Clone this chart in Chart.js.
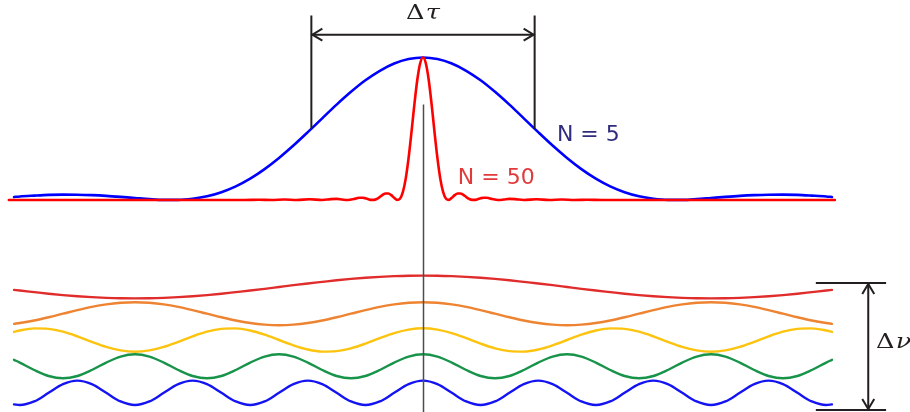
<!DOCTYPE html>
<html>
<head>
<meta charset="utf-8">
<script src="https://cdn.jsdelivr.net/npm/chart.js@4.4.1/dist/chart.umd.min.js"></script>
<style>
  html, body { margin: 0; padding: 0; background: #ffffff; }
  canvas { display: block; }
</style>
</head>
<body>
<canvas id="pulse" width="910" height="412"></canvas>
<script>
// Time axis (arbitrary units; one unit = one period of the lowest component)
const tGrid = [-0.71, -0.7, -0.675, -0.65, -0.625, -0.6, -0.575, -0.55, -0.525, -0.5,
  -0.475, -0.45, -0.425, -0.4, -0.375, -0.35, -0.325, -0.3, -0.275, -0.25,
  -0.225, -0.2, -0.175, -0.15, -0.125, -0.1, -0.075, -0.05, -0.025, 0,
  0.025, 0.05, 0.075, 0.1, 0.125, 0.15, 0.175, 0.2, 0.225, 0.25,
  0.275, 0.3, 0.325, 0.35, 0.375, 0.4, 0.425, 0.45, 0.475, 0.5,
  0.525, 0.55, 0.575, 0.6, 0.625, 0.65, 0.675, 0.7, 0.71];

// Five spectral components, normalised field amplitude
const comp1 = [-0.25, -0.31, -0.45, -0.59, -0.71, -0.81, -0.89, -0.95, -0.99, -1,
  -0.99, -0.95, -0.89, -0.81, -0.71, -0.59, -0.45, -0.31, -0.16, 0,
  0.16, 0.31, 0.45, 0.59, 0.71, 0.81, 0.89, 0.95, 0.99, 1,
  0.99, 0.95, 0.89, 0.81, 0.71, 0.59, 0.45, 0.31, 0.16, 0,
  -0.16, -0.31, -0.45, -0.59, -0.71, -0.81, -0.89, -0.95, -0.99, -1,
  -0.99, -0.95, -0.89, -0.81, -0.71, -0.59, -0.45, -0.31, -0.25];
const comp2 = [-0.88, -0.81, -0.59, -0.31, 0, 0.31, 0.59, 0.81, 0.95, 1,
  0.95, 0.81, 0.59, 0.31, 0, -0.31, -0.59, -0.81, -0.95, -1,
  -0.95, -0.81, -0.59, -0.31, 0, 0.31, 0.59, 0.81, 0.95, 1,
  0.95, 0.81, 0.59, 0.31, 0, -0.31, -0.59, -0.81, -0.95, -1,
  -0.95, -0.81, -0.59, -0.31, 0, 0.31, 0.59, 0.81, 0.95, 1,
  0.95, 0.81, 0.59, 0.31, 0, -0.31, -0.59, -0.81, -0.88];
const comp3 = [0.69, 0.81, 0.99, 0.95, 0.71, 0.31, -0.16, -0.59, -0.89, -1,
  -0.89, -0.59, -0.16, 0.31, 0.71, 0.95, 0.99, 0.81, 0.45, 0,
  -0.45, -0.81, -0.99, -0.95, -0.71, -0.31, 0.16, 0.59, 0.89, 1,
  0.89, 0.59, 0.16, -0.31, -0.71, -0.95, -0.99, -0.81, -0.45, 0,
  0.45, 0.81, 0.99, 0.95, 0.71, 0.31, -0.16, -0.59, -0.89, -1,
  -0.89, -0.59, -0.16, 0.31, 0.71, 0.95, 0.99, 0.81, 0.69];
const comp4 = [0.54, 0.31, -0.31, -0.81, -1, -0.81, -0.31, 0.31, 0.81, 1,
  0.81, 0.31, -0.31, -0.81, -1, -0.81, -0.31, 0.31, 0.81, 1,
  0.81, 0.31, -0.31, -0.81, -1, -0.81, -0.31, 0.31, 0.81, 1,
  0.81, 0.31, -0.31, -0.81, -1, -0.81, -0.31, 0.31, 0.81, 1,
  0.81, 0.31, -0.31, -0.81, -1, -0.81, -0.31, 0.31, 0.81, 1,
  0.81, 0.31, -0.31, -0.81, -1, -0.81, -0.31, 0.31, 0.54];
const comp5 = [-0.95, -1, -0.71, 0, 0.71, 1, 0.71, 0, -0.71, -1,
  -0.71, 0, 0.71, 1, 0.71, 0, -0.71, -1, -0.71, 0,
  0.71, 1, 0.71, 0, -0.71, -1, -0.71, 0, 0.71, 1,
  0.71, 0, -0.71, -1, -0.71, 0, 0.71, 1, 0.71, 0,
  -0.71, -1, -0.71, 0, 0.71, 1, 0.71, 0, -0.71, -1,
  -0.71, 0, 0.71, 1, 0.71, 0, -0.71, -1, -0.95];

// Pulse intensity for N = 5 (same time grid), peak normalised to 1
const pulseN5 = [0.021, 0.025, 0.031, 0.036, 0.038, 0.037, 0.034, 0.029, 0.022, 0.014,
  0.006, 0.001, 0.001, 0.009, 0.026, 0.055, 0.096, 0.150, 0.217, 0.295,
  0.382, 0.476, 0.573, 0.669, 0.759, 0.840, 0.907, 0.958, 0.989, 1,
  0.989, 0.958, 0.907, 0.840, 0.759, 0.669, 0.573, 0.476, 0.382, 0.295,
  0.217, 0.150, 0.096, 0.055, 0.026, 0.009, 0.001, 0.001, 0.006, 0.014,
  0.022, 0.029, 0.034, 0.037, 0.038, 0.036, 0.031, 0.025, 0.021];

// Pulse intensity for N = 50, sampled finely around the peak
const tN50 = [-0.719, -0.31, -0.285, -0.2625, -0.241, -0.219, -0.197, -0.175,
  -0.16, -0.15, -0.14, -0.13,
  -0.12, -0.115, -0.11, -0.105, -0.1, -0.095, -0.09, -0.085, -0.08, -0.075,
  -0.07, -0.065, -0.06, -0.055, -0.05, -0.045, -0.04, -0.035, -0.03, -0.025,
  -0.02, -0.015, -0.01, -0.005, 0,
  0.005, 0.01, 0.015, 0.02, 0.025, 0.03, 0.035, 0.04, 0.045, 0.05,
  0.055, 0.06, 0.065, 0.07, 0.075, 0.08, 0.085, 0.09, 0.095, 0.1,
  0.105, 0.11, 0.115, 0.12,
  0.13, 0.14, 0.15, 0.16,
  0.175, 0.197, 0.219, 0.241, 0.2625, 0.285, 0.31, 0.715];
const pulseN50 = [0, 0, 0.002, 0, 0.003, 0, 0.005, 0,
  0.006, 0.008, 0.003, 0,
  0.007, 0.012, 0.016, 0.016, 0.012, 0.006, 0.001, 0.001, 0.008, 0.021,
  0.036, 0.046, 0.046, 0.034, 0.015, 0.001, 0.009, 0.055, 0.150, 0.295,
  0.476, 0.669, 0.840, 0.958, 1,
  0.958, 0.840, 0.669, 0.476, 0.295, 0.150, 0.055, 0.009, 0.001, 0.015,
  0.034, 0.046, 0.046, 0.036, 0.021, 0.008, 0.001, 0.001, 0.006, 0.012,
  0.016, 0.016, 0.012, 0.007,
  0, 0.003, 0.008, 0.006,
  0, 0.005, 0, 0.003, 0, 0.002, 0, 0];

// ---- layout (canvas pixels) ----
const W = 910, H = 412;
const T_CENTER_PX = 423, PX_PER_T = 576;
const PULSE_BASE_PX = 200, PULSE_PX_PER_UNIT = 142.5;
// vertical centre and amplitude of each component row
const rows = [
  { c: 287.0, a: 11.4 },
  { c: 313.7, a: 11.5 },
  { c: 340.0, a: 11.7 },
  { c: 366.3, a: 12.0 },
  { c: 392.8, a: 12.2 }
];
const compColors = ['#e12c2c', '#ee8431', '#fdc40f', '#17934a', '#1414f2'];
const comps = [comp1, comp2, comp3, comp4, comp5];

function pts(xs, ys) { return xs.map((x, i) => ({ x: x, y: ys[i] })); }

const datasets = [
  { label: 'N = 50', data: pts(tN50, pulseN50), yAxisID: 'yPulse', borderColor: '#ff0000',
    borderWidth: 2.6, order: 0 },
  { label: 'N = 5', data: pts(tGrid, pulseN5), yAxisID: 'yPulse', borderColor: '#0000ff',
    borderWidth: 2.6, order: 1 }
];
comps.forEach((vals, k) => {
  datasets.push({ label: 'component ' + (k + 1), data: pts(tGrid, vals), yAxisID: 'w' + k,
    borderColor: compColors[k], borderWidth: 2.4, order: 6 - k });
});
datasets.forEach(d => {
  d.pointRadius = 0; d.fill = false; d.cubicInterpolationMode = 'monotone';
  d.borderJoinStyle = 'round'; d.borderCapStyle = 'round'; d.clip = false;
});

const scales = {
  x: { type: 'linear', display: false, min: -T_CENTER_PX / PX_PER_T, max: (W - T_CENTER_PX) / PX_PER_T },
  yPulse: { display: false, min: (PULSE_BASE_PX - H) / PULSE_PX_PER_UNIT, max: PULSE_BASE_PX / PULSE_PX_PER_UNIT }
};
rows.forEach((r, k) => { scales['w' + k] = { display: false, min: (r.c - H) / r.a, max: r.c / r.a }; });

// width of a pulse at half maximum, from its samples
function halfWidth(ts, vs) {
  const peak = vs.indexOf(Math.max(...vs));
  const half = vs[peak] / 2;
  let i = peak;
  while (i < vs.length - 1 && vs[i + 1] >= half) i++;
  const f = (vs[i] - half) / (vs[i] - vs[i + 1]);
  return ts[i] + f * (ts[i + 1] - ts[i]) - ts[peak];
}

const INK = '#231f20';
const marks = {
  centreTop: 0.67,        // pulse units
  bracketTop: 1.295,      // pulse units
  bracketArrow: 1.16,     // pulse units
  dnuLeft: 0.682, dnuRight: 0.804, dnuArrow: 0.773,
  dnuTop: ['w0', 0.35], dnuBottom: ['w4', -1.41],
  dnuLabel: [0.7865, 'w2', -0.68],
  n5Label: [0.2325, 0.414],
  n50Label: [0.0605, 0.112]
};

function chevron(ctx, x, y, dx, dy) {
  // open arrow head with tip at (x, y) pointing along (dx, dy)
  const L = 10, S = 6;
  ctx.beginPath();
  ctx.moveTo(x - dx * L - dy * S, y - dy * L + dx * S);
  ctx.lineTo(x, y);
  ctx.lineTo(x - dx * L + dy * S, y - dy * L - dx * S);
  ctx.stroke();
}

const annotations = {
  id: 'annotations',
  afterDatasetsDraw(chart) {
    const ctx = chart.ctx, sx = chart.scales.x, sp = chart.scales.yPulse;
    ctx.save();
    ctx.lineCap = 'butt';

    // centre line
    ctx.strokeStyle = '#4d4d4d';
    ctx.lineWidth = 1.5;
    const xc = Math.round(sx.getPixelForValue(0)) + 0.5;
    ctx.beginPath();
    ctx.moveTo(xc, sp.getPixelForValue(marks.centreTop));
    ctx.lineTo(xc, H);
    ctx.stroke();

    // delta tau bracket at half maximum of the N = 5 pulse
    const hw = halfWidth(tGrid, pulseN5);
    const xl = sx.getPixelForValue(-hw), xr = sx.getPixelForValue(hw);
    const yHalf = sp.getPixelForValue(0.5), yTop = sp.getPixelForValue(marks.bracketTop);
    const yArr = sp.getPixelForValue(marks.bracketArrow);
    ctx.strokeStyle = INK;
    ctx.lineWidth = 2;
    ctx.beginPath();
    ctx.moveTo(xl, yTop); ctx.lineTo(xl, yHalf);
    ctx.moveTo(xr, yTop); ctx.lineTo(xr, yHalf);
    ctx.moveTo(xl, yArr); ctx.lineTo(xr, yArr);
    ctx.stroke();
    chevron(ctx, xl + 1, yArr, -1, 0);
    chevron(ctx, xr - 1, yArr, 1, 0);

    // delta nu marker
    const yT = chart.scales[marks.dnuTop[0]].getPixelForValue(marks.dnuTop[1]);
    const yB = chart.scales[marks.dnuBottom[0]].getPixelForValue(marks.dnuBottom[1]);
    const x0 = sx.getPixelForValue(marks.dnuLeft), x1 = sx.getPixelForValue(marks.dnuRight);
    const xa = sx.getPixelForValue(marks.dnuArrow);
    ctx.beginPath();
    ctx.moveTo(x0, yT); ctx.lineTo(x1, yT);
    ctx.moveTo(x0, yB); ctx.lineTo(x1, yB);
    ctx.moveTo(xa, yT); ctx.lineTo(xa, yB);
    ctx.stroke();
    chevron(ctx, xa, yT + 1, 0, -1);
    chevron(ctx, xa, yB - 1, 0, 1);

    // symbol labels (slightly widened math-style glyphs)
    ctx.fillStyle = INK;
    ctx.textBaseline = 'alphabetic';
    const up = '21px "DejaVu Serif"', it = 'italic 21px "DejaVu Serif"';
    const STRETCH = 1.22;
    function symbol(greek, cx, base, centred) {
      ctx.font = up; const wD = ctx.measureText('\u0394').width;
      ctx.font = it; const wG = ctx.measureText(greek).width;
      const total = (wD + wG + 1) * STRETCH;
      const left = centred ? cx - total / 2 : cx;
      ctx.save();
      ctx.translate(left, base);
      ctx.scale(STRETCH, 1);
      ctx.font = up; ctx.fillText('\u0394', 0, 0);
      ctx.font = it; ctx.fillText(greek, wD + 1, 0);
      ctx.restore();
    }
    symbol('\u03c4', sx.getPixelForValue(0), sp.getPixelForValue(1.27), true);
    symbol('\u03bd', sx.getPixelForValue(marks.dnuLabel[0]),
      chart.scales[marks.dnuLabel[1]].getPixelForValue(marks.dnuLabel[2]), false);

    // series labels
    ctx.font = '22px "DejaVu Sans"';
    ctx.fillStyle = '#302c7e';
    ctx.fillText('N = 5', sx.getPixelForValue(marks.n5Label[0]), sp.getPixelForValue(marks.n5Label[1]));
    ctx.fillStyle = '#e23a3a';
    ctx.fillText('N = 50', sx.getPixelForValue(marks.n50Label[0]), sp.getPixelForValue(marks.n50Label[1]));
    ctx.restore();
  }
};

new Chart(document.getElementById('pulse'), {
  type: 'line',
  data: { datasets: datasets },
  options: {
    responsive: false,
    devicePixelRatio: 1,
    animation: false,
    events: [],
    layout: { padding: 0 },
    scales: scales,
    plugins: { legend: { display: false }, tooltip: { enabled: false }, title: { display: false } }
  },
  plugins: [annotations]
});
</script>
</body>
</html>
